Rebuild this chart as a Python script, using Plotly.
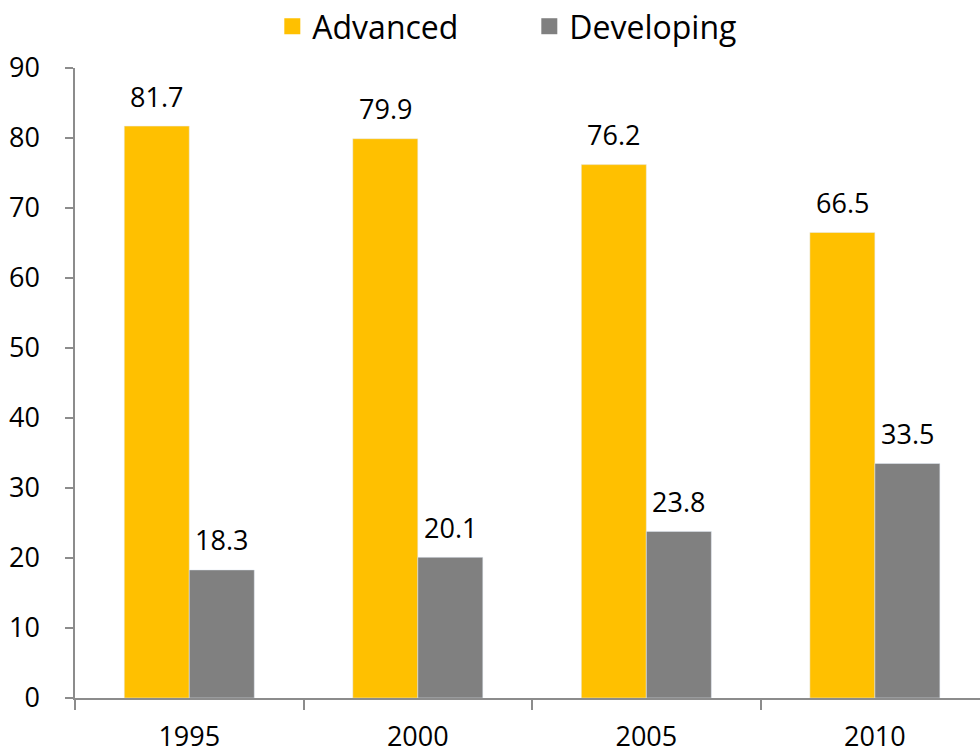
import plotly.graph_objects as go

years = ["1995", "2000", "2005", "2010"]
advanced = [81.7, 79.9, 76.2, 66.5]
developing = [18.3, 20.1, 23.8, 33.5]
y_ticks = [0, 10, 20, 30, 40, 50, 60, 70, 80, 90]

YELLOW = "#FFC000"
GREY = "#808080"
AXIS = "#8C8C8C"
FONT = "Open Sans, Liberation Sans, sans-serif"

fig = go.Figure()
fig.add_trace(go.Bar(x=years, y=advanced, name="Advanced", marker_color=YELLOW,
                     showlegend=False))
fig.add_trace(go.Bar(x=years, y=developing, name="Developing", marker_color=GREY,
                     showlegend=False))
# legend entries with larger square swatches
fig.add_trace(go.Scatter(x=[None], y=[None], mode="markers", name="Advanced",
                         marker=dict(symbol="square", size=20, color=YELLOW)))
fig.add_trace(go.Scatter(x=[None], y=[None], mode="markers", name="Developing",
                         marker=dict(symbol="square", size=20, color=GREY)))

half = 32.5
for i, yr in enumerate(years):
    fig.add_annotation(x=i, y=advanced[i], text=f"{advanced[i]:.1f}", showarrow=False,
                       xshift=-half, yshift=30, yanchor="middle",
                       font=dict(size=27, color="black", family=FONT))
    fig.add_annotation(x=i, y=developing[i], text=f"{developing[i]:.1f}", showarrow=False,
                       xshift=half, yshift=30, yanchor="middle",
                       font=dict(size=27, color="black", family=FONT))

fig.update_layout(
    width=980, height=753,
    margin=dict(l=75, r=0, t=68, b=55, autoexpand=False),
    paper_bgcolor="white", plot_bgcolor="white",
    barmode="group", bargap=0.431, bargroupgap=0,
    font=dict(family=FONT, size=27, color="black"),
    legend=dict(orientation="h", x=0.502, xanchor="center", y=1.066, yanchor="middle",
                font=dict(size=32, color="black", family=FONT),
                itemsizing="trace", traceorder="normal", entrywidth=212,
                entrywidthmode="pixels"),
    xaxis=dict(type="category", range=[-0.5, 3.46], showline=True, linecolor=AXIS,
               linewidth=1.5, ticks="outside", tickson="boundaries", ticklen=10,
               tickcolor=AXIS, tickwidth=1.5, showgrid=False, zeroline=False,
               ticklabelstandoff=14, tickfont=dict(size=27)),
    yaxis=dict(range=[0, 90], tickvals=y_ticks, showline=True, linecolor=AXIS,
               linewidth=1.5, ticks="outside", ticklen=8, tickcolor=AXIS, tickwidth=1.5,
               showgrid=False, zeroline=False, ticklabelstandoff=20,
               tickfont=dict(size=27)),
)

fig.write_html("out.html")
